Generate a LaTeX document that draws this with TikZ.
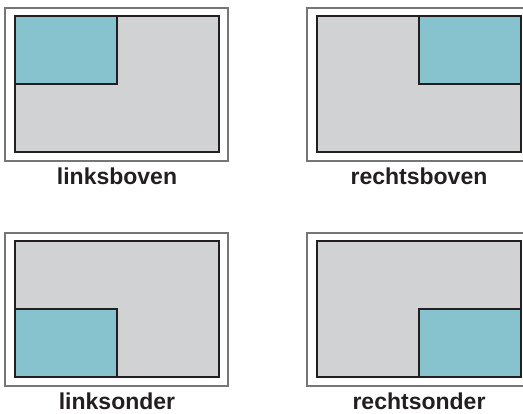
\documentclass[tikz,border=0pt]{standalone}
\usepackage{fontspec}
\setmainfont{Liberation Sans}
\usetikzlibrary{positioning}
\definecolor{panelgray}{RGB}{209,210,212}
\definecolor{zoneblue}{RGB}{134,195,207}
\definecolor{framegray}{RGB}{118,118,120}
\definecolor{edgeblack}{RGB}{35,31,32}

\begin{document}
\begin{tikzpicture}[x=1pt, y=-1pt,
  frame/.style={draw=framegray, line width=2pt, fill=white},
  screen/.style={draw=edgeblack, line width=2pt},
  zone/.style={draw=edgeblack, line width=1.2pt, fill=zoneblue},
  caption/.style={font=\fontsize{23}{27}\selectfont\bfseries, text=edgeblack,
    anchor=base, inner sep=0pt},
]
  \useasboundingbox (0,0) rectangle (523,414);
  \clip (0,0) rectangle (523,414);
  % one panel per corner: origin / zone corner / caption
  \foreach \px/\py/\zx/\zy/\name in {5/8/0/0/linksboven, 307/8/1/0/rechtsboven,
                                     5/233/0/1/linksonder, 307/233/1/1/rechtsonder}{
    \draw[frame] (\px,\py) rectangle ++(223,153);
    \fill[panelgray] (\px+10,\py+8) rectangle ++(204,136);
    \draw[zone] (\px+10+102*\zx,\py+8+68*\zy) rectangle ++(102,68);
    \draw[screen] (\px+10,\py+8) rectangle ++(204,136);
    \node[caption] (lbl-\name) at (\px+112,\py+177) {\name};
  }
\end{tikzpicture}
\end{document}
